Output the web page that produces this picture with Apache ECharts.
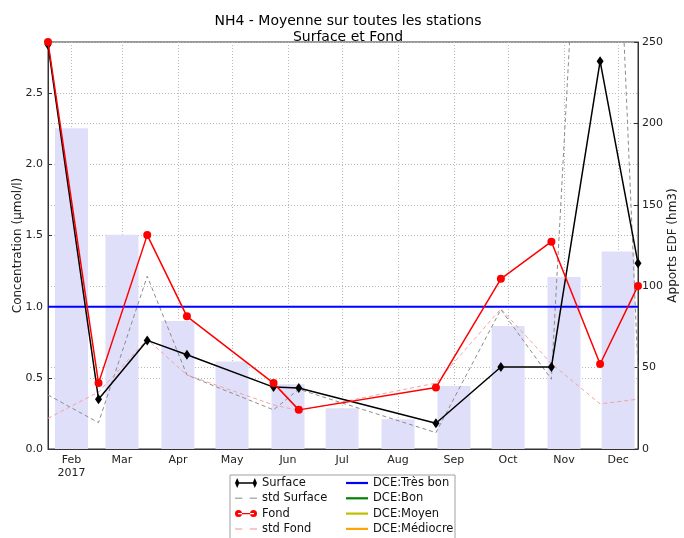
<!DOCTYPE html>
<html>
<head>
<meta charset="utf-8">
<script src="https://cdn.jsdelivr.net/npm/echarts@6/dist/echarts.min.js"></script>
<style>
  html, body { margin: 0; padding: 0; background: #fff; }
  #chart { width: 684px; height: 538px; }
</style>
</head>
<body>
<div id="chart"></div>
<script>
// Sampling dates (station campaign means)
const sampleDates = ['2017-01-19', '2017-02-16', '2017-03-15', '2017-04-06', '2017-05-24', '2017-06-07',
                     '2017-08-22', '2017-09-27', '2017-10-25', '2017-11-21', '2017-12-12'];
// NH4 concentrations (µmol/l)
const surface    = [2.84, 0.35, 0.763, 0.662, 0.435, 0.428, 0.181, 0.576, 0.576, 2.725, 1.305];
const stdSurface = [0.38, 0.185, 1.214, 0.52, 0.275, 0.42, 0.115, 0.98, 0.49, 6.85, 0.55];
const fond       = [2.86, 0.463, 1.503, 0.932, 0.463, 0.275, 0.432, 1.196, 1.457, 0.597, 1.146];
const stdFond    = [0.216, 0.40, 0.77, 0.52, 0.31, 0.27, 0.463, 0.985, 0.60, 0.317, 0.35];
// Monthly EDF inflows (hm3)
const edfDates   = ['2017-02-01', '2017-03-01', '2017-04-01', '2017-05-01', '2017-06-01', '2017-07-01',
                    '2017-08-01', '2017-09-01', '2017-10-01', '2017-11-01', '2017-12-01'];
const edfApports = [197, 131.6, 78.7, 53.7, 39.8, 25, 18.3, 38.7, 75.6, 105.6, 121.3];
// DCE quality threshold shown inside the value range
const dceTresBon = 1.0;
// Axis labels
const monthLabels = ['Jan', 'Feb', 'Mar', 'Apr', 'May', 'Jun', 'Jul', 'Aug', 'Sep', 'Oct', 'Nov', 'Dec'];
const yearLabel = '2017';
const leftTicks = { min: 0, max: 2.86, step: 0.5 };
const rightTicks = { min: 0, max: 250, step: 50 };

const FONT = 'DejaVu Sans';
const BAR_WIDTH = 33;
const xMin = sampleDates[0];
const xMax = sampleDates[sampleDates.length - 1];
const pair = (dates, vals) => dates.map((d, i) => [d, vals[i]]);

const gridLine = { show: true, lineStyle: { color: '#b8b8b8', type: [1, 2], width: 1 } };
const tick = { show: true, inside: true, length: 4, lineStyle: { color: '#333' } };

// legend icons: line with a marker at each end, plain line, dashed line
const diamondIcon = 'path://M0 5L2.2 0L4.4 5L2.2 10ZM17.6 5L19.8 0L22 5L19.8 10ZM2 4.3L20 4.3L20 5.7L2 5.7Z';
const circleIcon = 'path://M0 5A3.5 3.5 0 1 0 7 5A3.5 3.5 0 1 0 0 5ZM15 5A3.5 3.5 0 1 0 22 5A3.5 3.5 0 1 0 15 5ZM3 4.3L19 4.3L19 5.7L3 5.7Z';
const solidIcon = 'path://M0 0L22 0L22 2.2L0 2.2Z';
const dashIcon = 'path://M2 0L7 0L7 1L2 1ZM12 0L17 0L17 1L12 1Z';

const legendCommon = {
  orient: 'vertical', top: 477, padding: 0, itemGap: 3.3, itemWidth: 22, itemHeight: 12,
  textStyle: { fontFamily: FONT, fontSize: 11.5, color: '#111', lineHeight: 12 }
};

// monthly inflow bars, centred on the first day of each month
function renderBar(params, api) {
  const top = api.coord([api.value(0), api.value(1)]);
  const base = api.coord([api.value(0), 0]);
  return {
    type: 'rect',
    shape: { x: top[0] - BAR_WIDTH / 2, y: top[1], width: BAR_WIDTH, height: base[1] - top[1] },
    style: { fill: '#dfdff9' }
  };
}

const chart = echarts.init(document.getElementById('chart'));
chart.setOption({
  animation: false,
  backgroundColor: '#fff',
  textStyle: { fontFamily: FONT },
  title: {
    text: 'NH4 - Moyenne sur toutes les stations\nSurface et Fond',
    left: 343, top: 8, textAlign: 'center',
    textStyle: { fontFamily: FONT, fontSize: 14, fontWeight: 'normal', color: '#000', lineHeight: 16 }
  },
  grid: { left: 48, right: 46, top: 42, bottom: 89, show: true, borderColor: '#333', borderWidth: 1,
          containLabel: false, outerBoundsMode: 'none' },
  xAxis: {
    type: 'time', min: xMin, max: xMax,
    minInterval: 28 * 86400000, maxInterval: 31 * 86400000,
    axisLine: { show: true, lineStyle: { color: '#333' } },
    axisTick: tick,
    splitLine: gridLine,
    axisLabel: {
      fontFamily: FONT, fontSize: 11, color: '#222', margin: 5, lineHeight: 13,
      showMinLabel: false, showMaxLabel: false,
      formatter: function (v) {
        const d = new Date(v);
        const m = monthLabels[d.getMonth()];
        return d.getMonth() === 1 ? m + '\n' + yearLabel : m;
      }
    }
  },
  yAxis: [{
    type: 'value', min: leftTicks.min, max: leftTicks.max, interval: leftTicks.step,
    name: 'Concentration (µmol/l)', nameLocation: 'middle', nameGap: 24, nameRotate: 90, nameMoveOverlap: false,
    nameTextStyle: { fontFamily: FONT, fontSize: 12, color: '#222' },
    axisLine: { show: true, lineStyle: { color: '#333' } },
    axisTick: tick,
    splitLine: gridLine,
    axisLabel: { fontFamily: FONT, fontSize: 11, color: '#222', margin: 5, showMaxLabel: false,
                 formatter: v => v.toFixed(1) }
  }, {
    type: 'value', position: 'right', min: rightTicks.min, max: rightTicks.max, interval: rightTicks.step,
    name: 'Apports EDF (hm3)', nameLocation: 'middle', nameGap: 29, nameRotate: 90, nameMoveOverlap: false,
    nameTextStyle: { fontFamily: FONT, fontSize: 12, color: '#222' },
    axisLine: { show: true, lineStyle: { color: '#333' } },
    axisTick: tick,
    splitLine: gridLine,
    axisLabel: { fontFamily: FONT, fontSize: 11, color: '#222', margin: 4 }
  }],
  legend: [Object.assign({}, legendCommon, {
    left: 235,
    data: [
      { name: 'Surface', icon: diamondIcon },
      { name: 'std Surface', icon: dashIcon },
      { name: 'Fond', icon: circleIcon },
      { name: 'std Fond', icon: dashIcon }
    ]
  }), Object.assign({}, legendCommon, {
    left: 346,
    data: [
      { name: 'DCE:Très bon', icon: solidIcon },
      { name: 'DCE:Bon', icon: solidIcon },
      { name: 'DCE:Moyen', icon: solidIcon },
      { name: 'DCE:Médiocre', icon: solidIcon }
    ]
  })],
  graphic: [{
    type: 'rect', z: 0, silent: true,
    shape: { x: 230, y: 475, width: 225, height: 70 },
    style: { fill: '#fff', stroke: '#a0a0a0', lineWidth: 1 }
  }],
  series: [
    {
      name: 'Apports EDF', type: 'custom', yAxisIndex: 1, z: 1, clip: true,
      renderItem: renderBar,
      encode: { x: 0, y: 1 },
      data: pair(edfDates, edfApports)
    },
    {
      name: 'std Surface', type: 'line', yAxisIndex: 0, symbol: 'none', z: 2,
      lineStyle: { color: '#8c8c8c', width: 1, type: [4, 3] },
      itemStyle: { color: '#b0b0b0' },
      data: pair(sampleDates, stdSurface)
    },
    {
      name: 'std Fond', type: 'line', yAxisIndex: 0, symbol: 'none', z: 2,
      lineStyle: { color: '#f3a3a3', width: 1, type: [4, 3] },
      itemStyle: { color: '#f6b6b6' },
      data: pair(sampleDates, stdFond)
    },
    {
      name: 'DCE:Très bon', type: 'line', yAxisIndex: 0, symbol: 'none', z: 3,
      lineStyle: { color: '#0000ff', width: 2 }, itemStyle: { color: '#0000ff' },
      data: [[xMin, dceTresBon], [xMax, dceTresBon]]
    },
    { name: 'DCE:Bon', type: 'line', symbol: 'none', lineStyle: { color: '#008000', width: 2 }, itemStyle: { color: '#008000' }, data: [] },
    { name: 'DCE:Moyen', type: 'line', symbol: 'none', lineStyle: { color: '#bfbf00', width: 2 }, itemStyle: { color: '#bfbf00' }, data: [] },
    { name: 'DCE:Médiocre', type: 'line', symbol: 'none', lineStyle: { color: '#ffa500', width: 2 }, itemStyle: { color: '#ffa500' }, data: [] },
    {
      name: 'Surface', type: 'line', yAxisIndex: 0, z: 4,
      symbol: 'diamond', symbolSize: [7, 10], showAllSymbol: true,
      lineStyle: { color: '#000', width: 1.5 }, itemStyle: { color: '#000' },
      data: pair(sampleDates, surface)
    },
    {
      name: 'Fond', type: 'line', yAxisIndex: 0, z: 5,
      symbol: 'circle', symbolSize: 8, showAllSymbol: true,
      lineStyle: { color: '#ff0000', width: 1.5 }, itemStyle: { color: '#ff0000' },
      data: pair(sampleDates, fond)
    }
  ]
});
</script>
</body>
</html>
